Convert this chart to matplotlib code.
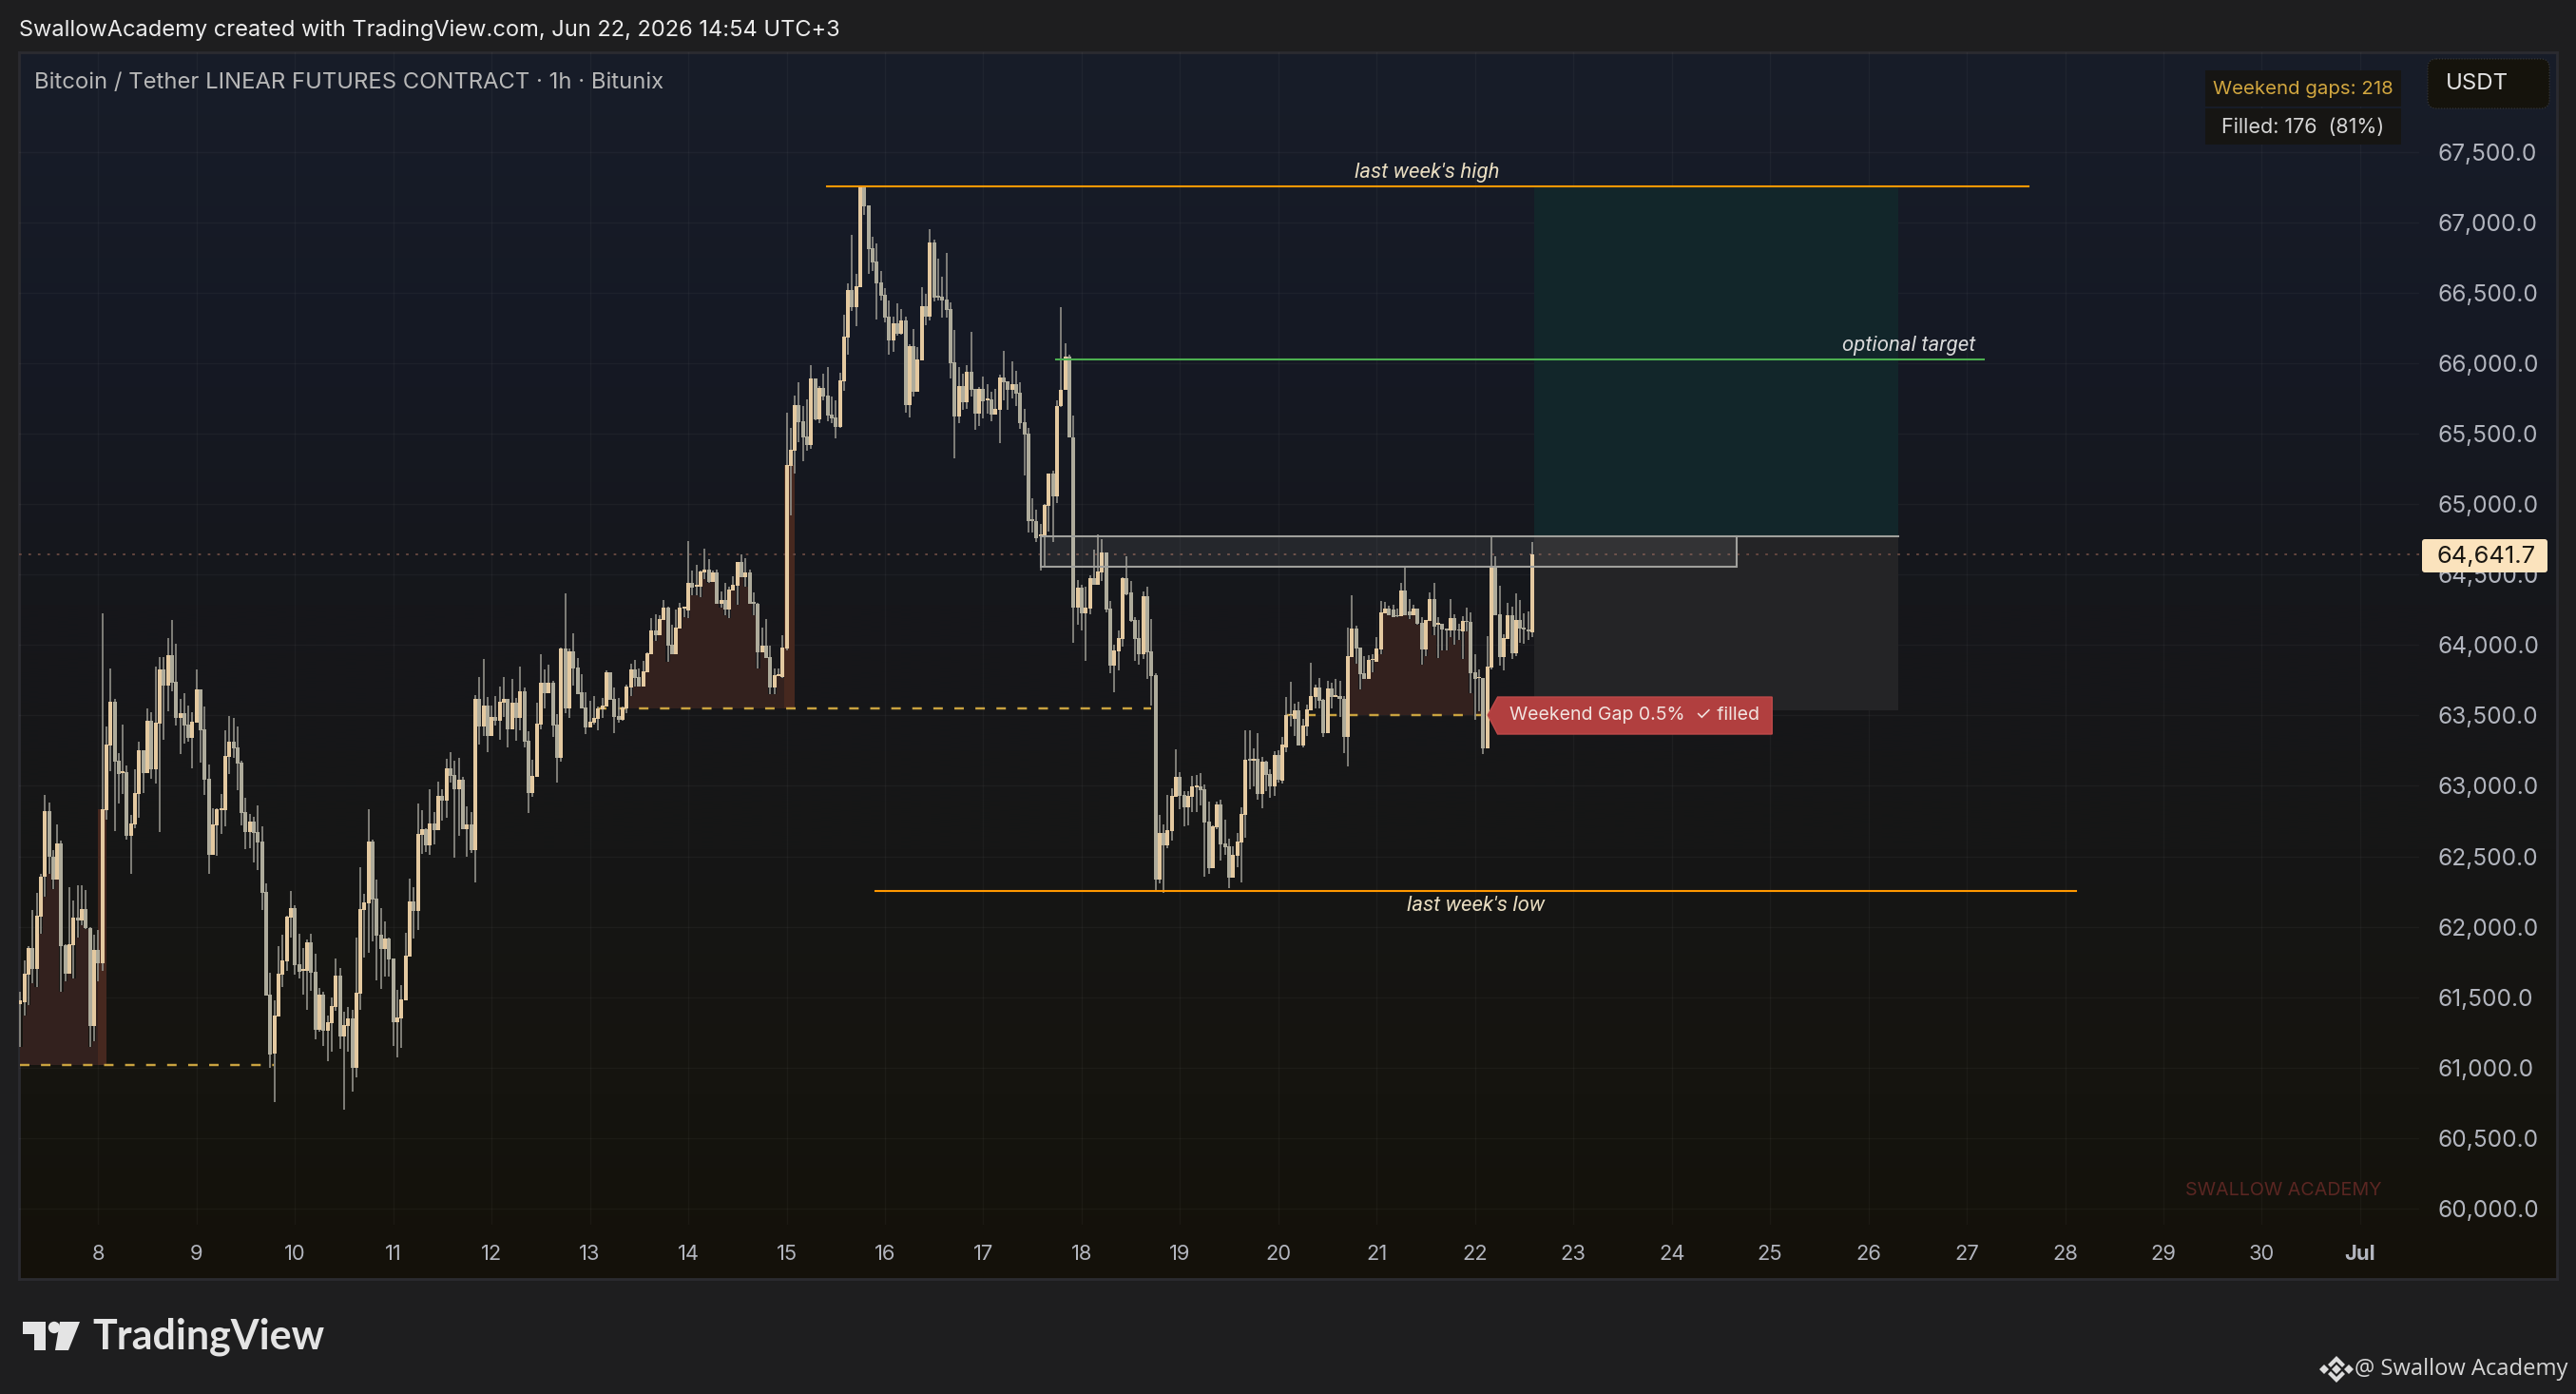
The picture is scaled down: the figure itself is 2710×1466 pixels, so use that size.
import numpy as np
import matplotlib
matplotlib.use("Agg")
import matplotlib.pyplot as plt
from matplotlib.patches import Polygon, Rectangle, FancyBboxPatch, Circle
from matplotlib.transforms import Affine2D

W, H = 2710, 1466
FONT = ["Inter", "DejaVu Sans"]
plt.rcParams["font.family"] = FONT

# ---- hourly candles, first bar = 7 June 05:00 (UTC+3) ----
first_day = 7 + 5 / 24

opens = [
61450,61464,61660,61846,61700,62071,62357,62820,62499,62335,
62589,61869,61666,61869,62065,62042,62125,61988,61295,61835,
61740,62830,63286,63597,63178,63090,63097,62645,62726,62942,
63252,63090,63462,63117,63441,63826,63711,63927,63738,63482,
63516,63435,63340,63448,63685,63401,63050,62510,62719,62827,
62827,63205,63313,63273,63165,62814,62672,62746,62672,62604,
62247,61518,61097,61363,61658,61752,62063,62130,61732,61685,
61685,61887,61678,61266,61516,61260,61313,61428,61651,61219,
61293,61347,60996,61523,62116,62164,62603,62198,61941,61840,
61914,61772,61320,61347,61475,61786,62177,62110,62650,62690,
62576,62731,62684,62927,62893,63122,63075,62974,63041,62690,
62724,62542,63615,63420,63568,63352,63487,63460,63588,63615,
63399,63588,63480,63669,63318,62947,63062,63433,63730,63656,
63730,63433,63197,63973,63548,63953,63838,63662,63555,63413,
63446,63473,63541,63561,63804,63615,63494,63467,63548,63696,
63825,63771,63703,63804,63933,64101,64068,64176,64263,64000,
63933,64115,64257,64243,64439,64412,64412,64513,64533,64446,
64513,64290,64317,64250,64385,64418,64587,64479,64513,64304,
64290,63946,63993,63912,63696,63777,63771,63973,65272,65380,
65704,65589,65481,65420,65893,65602,65825,65771,65636,65616,
65548,65872,66183,66520,66399,66541,67250,67121,66817,66723,
66575,66487,66331,66163,66284,66210,66304,65704,66122,65798,
66021,66406,66331,66858,66480,66473,66453,66385,66007,65623,
65839,65724,65940,65819,65643,65819,65737,65744,65636,65670,
65899,65873,65812,65852,65792,65582,65501,64894,64880,64770,
64770,64990,65221,65055,65697,65812,66048,65474,64264,64405,
64223,64257,64473,64426,64513,64655,64257,63852,63953,64041,
64473,64372,64176,64048,63933,64345,63953,63784,62333,62664,
62576,62677,62920,63062,62934,62846,62920,62988,62995,62975,
62745,62414,62704,62866,62590,62570,62347,62502,62596,62792,
63190,63177,63190,62941,63170,63083,62995,63217,63035,63274,
63503,63477,63537,63287,63422,63537,63632,63699,63612,63375,
63692,63632,63638,63618,63348,63915,64118,63983,63800,63760,
63895,63882,63969,64226,64259,64253,64212,64205,64388,64239,
64212,64259,64158,63969,64171,64327,64145,64152,64118,64104,
64192,64111,64097,64172,64165,63807,63765,63767,63267,63841,
64563,64219,63915,64043,64212,63942,64178,64124,64111,64091]

closes = [
61480,61666,61846,61700,62078,62357,62820,62499,62335,62589,
61862,61666,61875,62065,62042,62125,61988,61295,61835,61740,
62834,63293,63597,63172,63084,63104,62645,62733,62949,63252,
63090,63462,63117,63448,63826,63711,63927,63732,63482,63516,
63428,63340,63455,63685,63394,63043,62510,62726,62834,62841,
63212,63313,63266,63158,62807,62672,62746,62665,62598,62240,
61511,61093,61367,61665,61759,62070,62130,61725,61678,61698,
61887,61671,61266,61516,61260,61320,61435,61651,61219,61300,
61347,60996,61530,62123,62170,62603,62191,61935,61840,61914,
61766,61320,61354,61482,61793,62177,62110,62657,62690,62576,
62731,62684,62927,62893,63122,63068,62974,63041,62690,62724,
62542,63615,63420,63568,63352,63487,63460,63595,63615,63399,
63588,63480,63669,63314,62947,63069,63440,63730,63656,63730,
63426,63197,63973,63548,63953,63831,63649,63548,63413,63453,
63480,63548,63568,63804,63609,63487,63467,63555,63703,63825,
63764,63703,63811,63939,64101,64068,64182,64263,63993,63933,
64122,64263,64270,64439,64405,64425,64520,64533,64446,64513,
64290,64317,64250,64392,64425,64587,64479,64513,64290,64290,
63946,63993,63906,63696,63784,63791,63980,65279,65386,65704,
65582,65474,65420,65893,65602,65825,65764,65630,65609,65548,
65879,66190,66520,66399,66547,67250,67114,66811,66716,66568,
66480,66325,66163,66284,66210,66304,65704,66122,65798,66028,
66406,66331,66858,66466,66466,66446,66379,66001,65623,65839,
65724,65940,65812,65643,65819,65731,65751,65636,65677,65899,
65866,65812,65852,65785,65575,65494,64880,64880,64759,64785,
64995,65221,65055,65697,65812,66048,65474,64264,64405,64223,
64264,64473,64426,64520,64655,64250,63852,63960,64048,64473,
64358,64169,64041,63933,64345,63946,63778,62333,62664,62576,
62684,62927,63062,62927,62846,62927,62995,63001,62968,62738,
62414,62711,62866,62583,62563,62347,62509,62603,62799,63184,
63177,63190,62941,63170,63076,62995,63217,63042,63292,63503,
63510,63537,63287,63429,63544,63638,63699,63605,63375,63692,
63632,63645,63618,63348,63922,64118,63976,63794,63760,63895,
63900,63976,64232,64259,64212,64199,64205,64388,64212,64212,
64259,64152,63969,64178,64327,64131,64158,64111,64104,64192,
64104,64104,64172,64165,63800,63760,63770,63267,63848,64563,
64212,63915,64050,64212,63942,64178,64118,64111,64097,64642]

highs = [
61540,61761,61862,62118,62240,62375,62935,62881,62544,62726,
62611,61875,62280,62186,62294,62294,62260,61997,61943,61977,
64225,63421,63833,63617,63232,63435,63144,62793,63117,63313,
63252,63549,63522,63846,63914,63914,64049,64177,64009,63617,
63657,63570,63522,63826,63685,63563,63151,62841,62841,62942,
63394,63495,63482,63421,63178,62915,62800,62780,62861,62712,
62307,61673,61475,61860,61941,62076,62252,62150,61948,61847,
61907,61948,61806,61563,61536,61367,61496,61772,61705,61394,
61428,61408,61921,62420,62231,62832,62616,62333,62130,62036,
61921,61772,61550,61583,61955,62339,62279,62873,62825,62697,
62974,62812,63028,62974,63190,63237,63176,63197,63062,62852,
62812,63642,63770,63899,63629,63568,63636,63703,63770,63615,
63757,63622,63845,63696,63386,63183,63588,63933,63825,63858,
63744,63507,63980,64364,63973,64081,63906,63791,63662,63602,
63636,63561,63622,63818,63804,63696,63622,63561,63717,63865,
63892,63831,63885,63946,64189,64216,64209,64317,64270,64142,
64250,64297,64270,64736,64527,64567,64527,64682,64608,64527,
64533,64378,64439,64412,64486,64587,64641,64614,64533,64371,
64297,64122,64182,63993,63831,63831,64068,65650,65542,65771,
65866,65697,65744,65987,65893,65839,65926,65974,65764,65737,
65933,66345,66568,66912,66635,67250,67250,67121,66898,66851,
66655,66534,66446,66331,66426,66385,66331,66136,66244,66115,
66541,66494,66952,66878,66743,66615,66784,66433,66237,65974,
65926,65987,66223,65819,65832,65906,65852,65798,65818,65920,
66088,65873,66014,65947,65866,65677,65542,65042,64961,64860,
65000,65221,65240,65740,66400,66143,66062,65630,64460,64426,
64412,64493,64675,64783,64750,64655,64311,64000,64102,64480,
64628,64453,64196,64176,64378,64412,64183,63798,62792,62725,
62934,62981,63258,63096,62961,62961,63069,63076,63089,63008,
62887,62718,62887,62900,62758,62623,62570,62664,62846,63393,
63393,63265,63373,63204,63177,63116,63244,63251,63346,63632,
63740,63584,63600,63476,63578,63875,63720,63767,63620,63746,
63733,63760,63746,63640,64124,64354,64138,63983,63922,63929,
63936,64057,64313,64307,64280,64286,64260,64442,64556,64327,
64286,64259,64199,64178,64374,64442,64199,64152,64118,64327,
64219,64150,64205,64266,64232,63935,63827,63767,64064,64777,
64631,64421,64080,64300,64273,64367,64320,64226,64239,64732]

lows = [
61145,61369,61444,61599,61572,61950,62213,62375,62267,62335,
61538,61610,61666,61632,61925,62010,61983,61146,61187,61610,
61687,62760,63104,62679,62875,62942,62618,62375,62699,62773,
62949,63090,63050,63016,62672,63327,63529,63671,63428,63225,
63300,63313,63124,63448,63165,62935,62375,62510,62503,62658,
62712,63084,63199,62969,62719,62550,62557,62456,62402,62118,
61511,60998,60753,61363,61570,61685,61921,61658,61631,61516,
61408,61543,61199,61253,61152,61043,61111,61401,61131,60699,
61111,60827,60929,61408,61779,61813,61894,61617,61556,61644,
61644,61152,61070,61138,61475,61786,61914,61975,62515,62529,
62508,62582,62684,62751,62771,63021,62488,62643,62690,62495,
62522,62312,63291,63352,63237,63352,63426,63325,63487,63271,
63399,63318,63392,63271,62805,62920,63062,63399,63548,63656,
63345,63021,63170,63514,63480,63710,63649,63548,63366,63413,
63433,63392,63480,63561,63609,63372,63446,63460,63514,63636,
63703,63703,63703,63804,63933,64027,64068,64176,63879,63933,
63933,64115,64196,64189,64351,64351,64338,64466,64439,64446,
64290,64263,64209,64189,64385,64284,64479,64412,64290,64209,
63831,63946,63906,63649,63649,63777,63764,63960,64923,65218,
65440,65305,65380,65393,65596,65575,65737,65589,65575,65467,
65542,65805,66061,66372,66264,66541,67054,66635,66655,66311,
66446,66291,66061,66082,66196,66203,65650,65616,65764,65798,
66021,66271,66304,66439,66446,66325,66325,65893,65326,65575,
65670,65677,65764,65528,65555,65609,65643,65589,65636,65434,
65737,65670,65751,65697,65535,65204,64799,64799,64732,64527,
64554,64806,64730,65010,65690,65812,65474,64014,64142,64102,
63886,64216,64426,64426,64453,64230,63798,63663,63818,63987,
64351,64162,63886,63859,63899,63757,63568,62259,62306,62239,
62556,62610,62920,62833,62711,62718,62812,62812,62860,62354,
62374,62414,62691,62468,62509,62273,62347,62421,62313,62630,
62974,62995,62900,62839,62961,62914,62927,63022,63015,63240,
63422,63355,63287,63274,63355,63537,63551,63551,63348,63375,
63551,63632,63490,63233,63139,63915,63868,63686,63760,63760,
63807,63882,63935,64226,64212,64199,64200,64205,64212,64185,
64212,64145,63861,63922,64171,64070,63908,63963,63963,64057,
64003,64037,63902,64100,63659,63470,63530,63227,63267,63827,
64212,63854,63821,64043,63902,63922,64016,64010,64037,64057]

assert len(opens) == len(closes) == len(highs) == len(lows)

# ---- axis labels ----
price_ticks = list(range(60000, 68000, 500))
day_ticks = list(range(8, 32))
day_labels = [str(d) for d in range(8, 31)] + ["Jul"]

# ---- drawings (day of June, price) ----
last_price = 64641.7
week_high, week_high_days = 67255, (15.41, 27.63)
week_low, week_low_days = 62255, (15.90, 28.11)
target, target_days = 66030, (17.74, 27.17)
band_top, band_bottom, band_days = 64772, 64556, (17.586, 24.66)
pos_days = (22.60, 26.30)
pos_stop = 63538
gap_levels = [61018, 63548, 63506]
gap_dash_days = [(7.2, 9.79), (13.07, 18.71), (20.07, 22.12)]
gap_fill_bars = [(0, 20), (148, 187), (324, 358)]      # candle index ranges
tag_days = (22.13, 22.23, 25.02)
tag_prices = (63631, 63503, 63368)

CREAM, GREY, WICK = "#e4c9a0", "#aeab9b", "#8d8c85"
BROWN, BROWN2 = "#33211e", "#46281f"
GOLD = "#c9a23f"
ORANGE = "#ff9800"

fig = plt.figure(figsize=(W / 100, H / 100), dpi=100, facecolor="#1e1e1f")


def axes_px(x0, y0, x1, y1, **kw):
    return fig.add_axes([x0 / W, 1 - y1 / H, (x1 - x0) / W, (y1 - y0) / H], **kw)


# panel background
bg = axes_px(20, 55, 2690, 1345, zorder=0)
stops_y = [0.0, 0.25, 0.45, 0.65, 0.85, 1.0]
stops = np.array([[0x18, 0x1d, 0x29], [0x15, 0x19, 0x24], [0x16, 0x17, 0x1b],
                  [0x16, 0x16, 0x16], [0x15, 0x14, 0x0f], [0x14, 0x11, 0x0a]]) / 255
ramp_y = np.linspace(0, 1, 512)
ramp = np.stack([np.interp(ramp_y, stops_y, stops[:, i]) for i in range(3)], axis=1)[:, None, :]
bg.imshow(ramp, aspect="auto", extent=(0, 1, 0, 1), interpolation="bilinear")
bg.set_xticks([]); bg.set_yticks([])
for s in bg.spines.values():
    s.set_color("#2b2b30"); s.set_linewidth(2)

# main chart axes
ax = axes_px(20, 55, 2545, 1288, zorder=1, facecolor="none")
ax.set_xlim(7.195, 31.60)
ax.set_ylim(59884, 68209)
for s in ax.spines.values():
    s.set_visible(False)
ax.yaxis.tick_right()
ax.set_yticks(price_ticks, [f"{v:,.1f}" for v in price_ticks])
ax.set_xticks(day_ticks, day_labels)
ax.tick_params(axis="y", length=0, pad=14.4, labelsize=17.6, labelcolor="#b2b5be")
ax.tick_params(axis="x", length=0, pad=15, labelsize=15.8, labelcolor="#b2b5be")
ax.get_xticklabels()[-1].set_fontweight("bold")
ax.set_axisbelow(True)
ax.grid(True, color="#ffffff", alpha=0.035, lw=1)

o, c, h, l = map(np.array, (opens, closes, highs, lows))
x = first_day + np.arange(len(o)) / 24
up = c >= o
day_w = 4.0 / 103.45

# position tool
ax.add_patch(Rectangle((pos_days[0], band_top), pos_days[1] - pos_days[0], week_high - band_top,
                       fc="#12262a", ec="none", zorder=1))
ax.add_patch(Rectangle((pos_days[0], pos_stop), pos_days[1] - pos_days[0], band_top - pos_stop,
                       fc="#242426", ec="none", zorder=1))

# weekend gap fills
for (i0, i1), lvl in zip(gap_fill_bars, gap_levels):
    xs = x[i0:i1 + 1]
    ax.fill_between(xs, lvl, np.maximum(l[i0:i1 + 1], lvl), step="mid", color=BROWN, lw=0, zorder=2)
ax.bar(x[20] - 0.04, c[20] - gap_levels[0], bottom=gap_levels[0], width=0.085, align="edge",
       color=BROWN2, lw=0, zorder=2)
ax.bar(x[187] - 0.02, c[187] - gap_levels[1], bottom=gap_levels[1], width=0.10, align="edge",
       color=BROWN2, lw=0, zorder=2)
for lvl, (d0, d1) in zip(gap_levels, gap_dash_days):
    ax.plot([d0, d1], [lvl, lvl], color=GOLD, lw=1.75, ls=(0, (4.1, 5)), zorder=3)

# last price line
ax.axhline(last_price, color="#6a4a42", lw=1.3, ls=(0, (1.5, 4)), zorder=3)

# candles
ax.vlines(x, l, h, color=WICK, lw=1.25, zorder=4)
ax.bar(x, np.abs(c - o), bottom=np.minimum(o, c), width=day_w,
       color=[CREAM if u else GREY for u in up], lw=0, antialiased=False, zorder=5)

# horizontal drawings
ax.add_patch(Rectangle((band_days[0], band_bottom), band_days[1] - band_days[0], band_top - band_bottom,
                       fc=(1, 1, 1, 0.07), ec="#a0a09c", lw=1.5, zorder=6))
ax.plot([band_days[1], pos_days[1]], [band_top, band_top], color="#a0a09c", lw=1.5, zorder=6)
ax.plot(week_high_days, [week_high] * 2, color=ORANGE, lw=1.5, zorder=6)
ax.plot(week_low_days, [week_low] * 2, color=ORANGE, lw=1.5, zorder=6)
ax.plot(target_days, [target] * 2, color="#4caf50", lw=1.5, zorder=6)
ital = dict(style="italic", fontsize=16, ha="center", va="center", family=["Roboto", "DejaVu Sans"], zorder=7)
ax.text(21.51, week_high + 100, "last week's high", color="#e8dcc0", **ital)
ax.text(22.01, week_low - 105, "last week's low", color="#e8dcc0", **ital)
ax.text(26.41, target + 95, "optional target", color="#d8d8d8", **ital)

# gap tag
ax.add_patch(Polygon([(tag_days[1], tag_prices[0]), (tag_days[2], tag_prices[0]),
                      (tag_days[2], tag_prices[2]), (tag_days[1], tag_prices[2]),
                      (tag_days[0], tag_prices[1])],
                     closed=True, fc="#b13f3f", ec="#c04a4a", lw=1, zorder=7))
ax.text((tag_days[1] + tag_days[2]) / 2, tag_prices[1], "Weekend Gap 0.5%  \u2713 filled",
        color="#f2e4e0", fontsize=14.0, ha="center", va="center", zorder=8)

# overlay axes for header, tag etc. sits above everything
ov = axes_px(0, 0, W, H, zorder=3, facecolor="none")
ov.set_axis_off()
ov.set_xlim(0, W); ov.set_ylim(H, 0)
ov.text(20, 32, "SwallowAcademy created with TradingView.com, Jun 22, 2026 14:54 UTC+3",
        color="#ececec", fontsize=17.0, ha="left", va="center")
ov.text(36, 87, "Bitcoin / Tether LINEAR FUTURES CONTRACT \u00b7 1h \u00b7 Bitunix",
        color="#b8b8b8", fontsize=17.15, ha="left", va="center")

# stats table
ov.add_patch(Rectangle((2320, 74), 206, 38, fc="#161513", ec="none"))
ov.add_patch(Rectangle((2320, 114), 206, 38, fc="#161513", ec="none"))
ov.text(2423, 94, "Weekend gaps: 218", color="#d1a63f", fontsize=14.7, ha="center", va="center")
ov.text(2423, 134, "Filled: 176  (81%)", color="#d6d6d6", fontsize=15.5, ha="center", va="center")

# currency box
ov.add_patch(FancyBboxPatch((2558, 66), 120, 44, boxstyle="round,pad=4,rounding_size=9",
                            fc="#15130c", ec="#3a3a3a", lw=0.8, ls=":"))
ov.text(2573, 88, "USDT", color="#e4e4e4", fontsize=17.3, ha="left", va="center")

# last price tag
ov.add_patch(FancyBboxPatch((2550, 569), 128, 31, boxstyle="round,pad=2,rounding_size=3",
                            fc="#fbe3bd", ec="none"))
ov.text(2616, 585, f"{last_price:,.1f}", color="#1a1712", fontsize=18.4, ha="center", va="center")

# watermark
ov.text(2402, 1252, "SWALLOW ACADEMY", color="#5a2622", fontsize=14.2, ha="center", va="center")

# TradingView logo
ov.add_patch(Polygon([(24, 1390), (48, 1390), (48, 1420), (36, 1420), (36, 1403), (24, 1403)], fc="#e4e4e4", ec="none"))
ov.add_patch(Circle((57, 1396), 6.2, fc="#e4e4e4", ec="none"))
ov.add_patch(Polygon([(63, 1390), (84, 1390), (72, 1420), (58, 1420)], fc="#e4e4e4", ec="none"))
ov.text(97, 1406, "TradingView", color="#e4e4e4", fontsize=31.0, fontweight="bold", ha="left", va="center",
        family=["Lato", "DejaVu Sans"])

# bottom right credit
for pts in ([(2445, 1435), (2450, 1440), (2445, 1445), (2440, 1440)],
            [(2471, 1435), (2476, 1440), (2471, 1445), (2466, 1440)],
            [(2458, 1435), (2463, 1440), (2458, 1445), (2453, 1440)],
            [(2458, 1426), (2467, 1435), (2464, 1438), (2458, 1432), (2452, 1438), (2449, 1435)],
            [(2458, 1454), (2467, 1445), (2464, 1442), (2458, 1448), (2452, 1442), (2449, 1445)]):
    ov.add_patch(Polygon(pts, fc="#dcdcdc", ec="none"))
ov.text(2477, 1440, "@ Swallow Academy", color="#d6d6d6", fontsize=17.1, ha="left", va="center",
        family=["Open Sans", "DejaVu Sans"])

fig.savefig("out.png", dpi=100, facecolor=fig.get_facecolor())
